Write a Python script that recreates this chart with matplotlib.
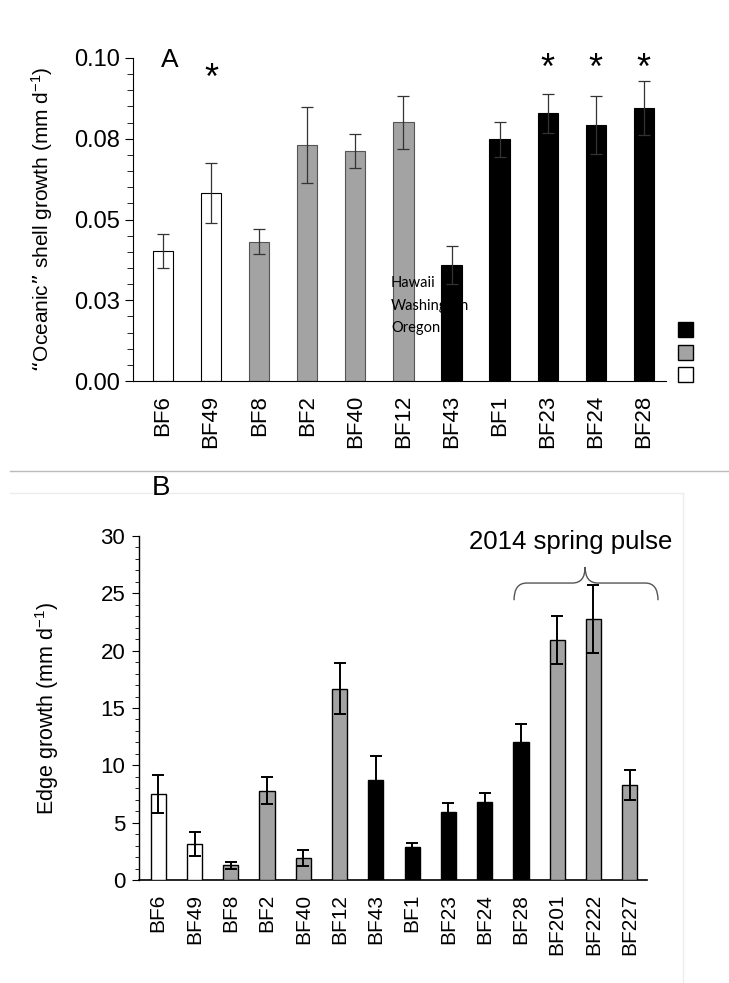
import matplotlib
matplotlib.use('Agg')
import matplotlib.pyplot as plt
from matplotlib.patches import Rectangle, PathPatch
from matplotlib.path import Path
from matplotlib.lines import Line2D

plt.rcParams['font.family'] = ['Liberation Sans', 'DejaVu Sans']
plt.rcParams['mathtext.default'] = 'regular'

# panel A data
labels_a = ['BF6', 'BF49', 'BF8', 'BF2', 'BF40', 'BF12', 'BF43', 'BF1', 'BF23', 'BF24', 'BF28']
oceanic = [0.0403, 0.0582, 0.0431, 0.0730, 0.0712, 0.0801, 0.0358, 0.0748, 0.0829, 0.0792, 0.0846]
oceanic_err = [0.0053, 0.0092, 0.0039, 0.0118, 0.0052, 0.0082, 0.0059, 0.0055, 0.0060, 0.0090, 0.0083]
region_a = ['Oregon', 'Oregon', 'Washington', 'Washington', 'Washington', 'Washington',
            'Hawaii', 'Hawaii', 'Hawaii', 'Hawaii', 'Hawaii']
signif_a = ['BF49', 'BF23', 'BF24', 'BF28']
yticks_a = [0, 0.025, 0.05, 0.075, 0.1]
ytick_labels_a = ['0.00', '0.03', '0.05', '0.08', '0.10']

# panel B data
labels_b = ['BF6', 'BF49', 'BF8', 'BF2', 'BF40', 'BF12', 'BF43', 'BF1', 'BF23', 'BF24',
            'BF28', 'BF201', 'BF222', 'BF227']
edge = [7.5, 3.14, 1.28, 7.79, 1.89, 16.69, 8.75, 2.85, 5.93, 6.8, 12.03, 20.9, 22.76, 8.26]
edge_err = [1.7, 1.03, 0.3, 1.2, 0.7, 2.2, 2.03, 0.4, 0.75, 0.8, 1.6, 2.1, 3.0, 1.3]
region_b = ['Oregon', 'Oregon', 'Washington', 'Washington', 'Washington', 'Washington',
            'Hawaii', 'Hawaii', 'Hawaii', 'Hawaii', 'Hawaii', 'Washington', 'Washington', 'Washington']
pulse = ['BF28', 'BF201', 'BF222', 'BF227']

fill = {'Hawaii': 'black', 'Washington': '#a3a3a3', 'Oregon': 'white'}
edgec = {'Hawaii': 'black', 'Washington': '#555555', 'Oregon': 'black'}

fig = plt.figure(figsize=(7.29, 9.83), dpi=100)

# ---- panel A ----
axA = fig.add_axes([0.1824, 0.6124, 0.7311, 0.3286])
xa = list(range(len(labels_a)))
# black bars drawn above the legend text, the others below it
for i in xa:
    r = region_a[i]
    axA.bar(xa[i], oceanic[i], width=0.42, color=fill[r], edgecolor=edgec[r],
            linewidth=0.8, zorder=3 if r == 'Hawaii' else 1.5)
axA.errorbar(xa, oceanic, yerr=oceanic_err, fmt='none', ecolor='#333333',
             elinewidth=0.9, capsize=4, capthick=0.9, zorder=4)
for i, lab in enumerate(labels_a):
    if lab in signif_a:
        y = 0.0935 if lab == 'BF49' else 0.0965
        axA.text(i, y, '*', ha='center', va='center', fontsize=26, zorder=5)
axA.set_xlim(-0.625, 10.46)
axA.set_ylim(0, 0.1)
axA.set_yticks(yticks_a)
axA.set_yticklabels(ytick_labels_a)
axA.set_yticks([i * 0.005 for i in range(21)], minor=True)
axA.set_xticks(xa)
axA.set_xticklabels(labels_a, rotation=90)
axA.tick_params(axis='y', which='major', labelsize=17, length=6, width=0.8, pad=3)
axA.tick_params(axis='y', which='minor', length=4, width=0.6)
axA.tick_params(axis='x', length=0, labelsize=16, pad=10)
for s in ['top', 'right']:
    axA.spines[s].set_visible(False)
axA.spines['left'].set_linewidth(0.8)
axA.spines['bottom'].set_linewidth(0.8)
axA.set_ylabel('\u201cOceanic\u201d shell growth (mm d$^{-1}$)', fontsize=15, labelpad=14)
axA.text(0.053, 0.994, 'A', transform=axA.transAxes, fontsize=19, ha='left', va='center')

# broken legend: text partly hidden behind the black bars, squares at right
leg_names = ['Hawaii', 'Washington', 'Oregon']
for k, name in enumerate(leg_names):
    axA.text(0.484, 0.303 - k * 0.07, name, transform=axA.transAxes, fontsize=10.5,
             family=['Lato', 'DejaVu Sans'], va='center', ha='left', zorder=2)
    axA.add_patch(Rectangle((1.0225, 0.136 - k * 0.07), 0.028, 0.046, transform=axA.transAxes,
                            facecolor=fill[name], edgecolor='black', linewidth=1,
                            clip_on=False))

# separator between panels
fig.add_artist(Line2D([0.014, 1.0], [1 - 471 / 983] * 2, transform=fig.transFigure,
                      color='#bbbbbb', lw=1))
fig.add_artist(Line2D([0.014, 683 / 729], [1 - 493 / 983] * 2, transform=fig.transFigure,
                      color='#ececec', lw=1))
fig.add_artist(Line2D([683 / 729] * 2, [1 - 493 / 983, 0.0], transform=fig.transFigure,
                      color='#ececec', lw=1))
fig.text(152 / 729, 1 - 488 / 983, 'B', fontsize=20, ha='left', va='center')

# ---- panel B ----
axB = fig.add_axes([0.1907, 0.1048, 0.697, 0.3499])
xb = list(range(len(labels_b)))
axB.bar(xb, edge, width=0.42, color=[fill[r] for r in region_b],
        edgecolor='black', linewidth=1.0, zorder=3)
axB.errorbar(xb, edge, yerr=edge_err, fmt='none', ecolor='black',
             elinewidth=1.4, capsize=4, capthick=1.4, zorder=4)
axB.set_xlim(-0.53, 13.48)
axB.set_ylim(0, 30)
axB.set_yticks(range(0, 31, 5))
axB.set_yticks(range(0, 31), minor=True)
axB.set_xticks(xb)
axB.set_xticklabels(labels_b, rotation=90)
axB.tick_params(axis='y', which='major', labelsize=16, length=5, width=0.8, pad=5)
axB.tick_params(axis='y', which='minor', length=3, width=0.6)
axB.tick_params(axis='x', length=0, labelsize=15, pad=10)
for s in ['top', 'right']:
    axB.spines[s].set_visible(False)
axB.spines['left'].set_linewidth(1.0)
axB.spines['bottom'].set_linewidth(1.2)
axB.set_ylabel('Edge growth (mm d$^{-1}$)', fontsize=15.5, labelpad=28)

# brace over the spring pulse group
i0 = labels_b.index(pulse[0])
i1 = labels_b.index(pulse[-1])
x0, x1 = i0 - 0.19, i1 + 0.78
xm = 11.77
yb, yl, yp = 24.4, 25.9, 27.3
verts = [(x0, yb), (x0, yl), (x0 + 0.35, yl),
         (xm - 0.35, yl), (xm, yl), (xm, yp),
         (xm, yl), (xm + 0.35, yl),
         (x1 - 0.35, yl), (x1, yl), (x1, yb)]
codes = [Path.MOVETO, Path.CURVE3, Path.CURVE3,
         Path.LINETO, Path.CURVE3, Path.CURVE3,
         Path.CURVE3, Path.CURVE3,
         Path.LINETO, Path.CURVE3, Path.CURVE3]
axB.add_patch(PathPatch(Path(verts, codes), facecolor='none', edgecolor='#555555',
                        lw=1, clip_on=False))
axB.text(11.38, 29.5, '2014 spring pulse', ha='center', va='center', fontsize=18.5)

fig.savefig('out.png', dpi=100)
